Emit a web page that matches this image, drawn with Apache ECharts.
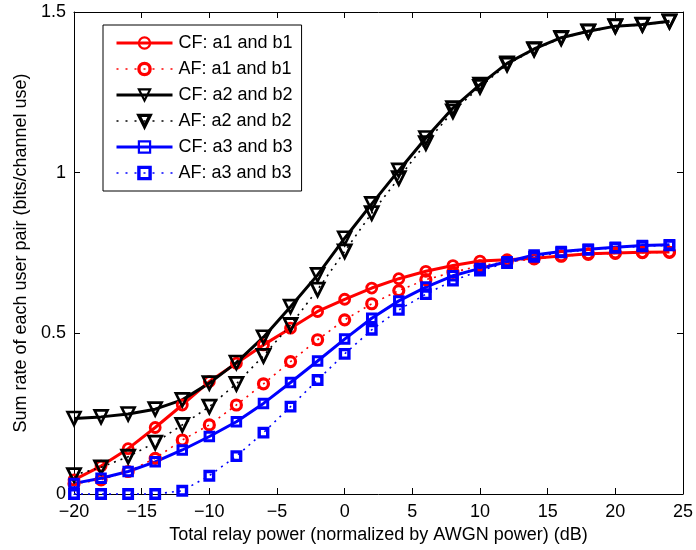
<!DOCTYPE html>
<html>
<head>
<meta charset="utf-8">
<script src="https://cdn.jsdelivr.net/npm/echarts@6/dist/echarts.min.js"></script>
<style>
  html, body { margin: 0; padding: 0; background: #fff; }
  #chart { width: 696px; height: 550px; }
</style>
</head>
<body>
<div id="chart"></div>
<script>
// Total relay power, dB (normalized by AWGN power)
const powerDb = [-20, -18, -16, -14, -12, -10, -8, -6, -4, -2, 0, 2, 4, 6, 8, 10, 12, 14, 16, 18, 20, 22, 24];

// Sum rate of each user pair (bits/channel use)
const cfA1B1 = [0.044, 0.087, 0.141, 0.207, 0.277, 0.350, 0.407, 0.464, 0.516, 0.568, 0.606, 0.641, 0.670, 0.693, 0.711, 0.725, 0.729, 0.734, 0.741, 0.748, 0.750, 0.752, 0.753];
const afA1B1 = [0.032, 0.044, 0.070, 0.111, 0.168, 0.215, 0.277, 0.343, 0.412, 0.480, 0.542, 0.592, 0.633, 0.667, 0.690, 0.710, 0.722, 0.732, 0.740, 0.746, 0.749, 0.751, 0.752];
const cfA2B2 = [0.235, 0.240, 0.249, 0.264, 0.293, 0.345, 0.409, 0.488, 0.583, 0.682, 0.796, 0.903, 1.007, 1.108, 1.201, 1.274, 1.340, 1.385, 1.420, 1.440, 1.456, 1.461, 1.471];
const afA2B2 = [0.059, 0.083, 0.116, 0.160, 0.215, 0.272, 0.343, 0.430, 0.526, 0.636, 0.755, 0.874, 0.983, 1.092, 1.191, 1.267, 1.336, 1.383, 1.418, 1.439, 1.455, 1.460, 1.470];
const cfA3B3 = [0.033, 0.049, 0.070, 0.100, 0.137, 0.179, 0.225, 0.282, 0.347, 0.414, 0.482, 0.547, 0.601, 0.644, 0.679, 0.702, 0.723, 0.744, 0.755, 0.762, 0.768, 0.773, 0.776];
const afA3B3 = [0.000, 0.000, 0.000, 0.000, 0.010, 0.057, 0.118, 0.191, 0.272, 0.355, 0.436, 0.511, 0.573, 0.622, 0.664, 0.695, 0.719, 0.738, 0.752, 0.760, 0.766, 0.771, 0.774];

// Axis ticks
const xTicks = { min: -20, max: 25, step: 5 };
const yTicks = { min: 0, max: 1.5, step: 0.5 };

const FONT = '"Liberation Sans", Arial, Helvetica, sans-serif';
const FONT_SIZE = 18;
const RED = '#ff0000', BLACK = '#000000', BLUE = '#0000ff';

const SOLID = { width: 3, type: 'solid' };
const DOTTED = { width: 1.6, type: [2, 5] };

function pairs(ys) { return powerDb.map((x, i) => [x, ys[i]]); }

function makeSeries(name, ys, color, dotted, symbol, size, border, rotate) {
  const line = dotted ? DOTTED : SOLID;
  return {
    name: name,
    type: 'line',
    data: pairs(ys),
    symbol: symbol,
    symbolSize: size,
    symbolRotate: rotate || 0,
    showSymbol: true,
    clip: false,
    lineStyle: { color: color, width: line.width, type: line.type },
    itemStyle: { color: 'rgba(0,0,0,0)', borderColor: color, borderWidth: border },
    emphasis: { disabled: true }
  };
}

const series = [
  makeSeries('CF: a1 and b1', cfA1B1, RED, false, 'circle', 10, 2.8),
  makeSeries('AF: a1 and b1', afA1B1, RED, true, 'circle', 10, 3.2),
  makeSeries('CF: a2 and b2', cfA2B2, BLACK, false, 'triangle', 13, 2.6, 180),
  makeSeries('AF: a2 and b2', afA2B2, BLACK, true, 'triangle', 13, 2.8, 180),
  makeSeries('CF: a3 and b3', cfA3B3, BLUE, false, 'rect', 8.5, 3),
  makeSeries('AF: a3 and b3', afA3B3, BLUE, true, 'rect', 8.5, 3.4)
];

// legend entries carry the same stroke widths as the plotted lines
const legendItems = series.map((s, i) => {
  const dotted = i % 2 === 1;
  return {
    name: s.name,
    lineStyle: { width: dotted ? DOTTED.width : SOLID.width, type: dotted ? [2, 7] : 'solid', color: s.lineStyle.color },
    itemStyle: { borderWidth: dotted ? 3.4 : 2.2 }
  };
});

const axisBase = {
  axisLine: { show: true, onZero: false, lineStyle: { color: '#000', width: 1 } },
  axisTick: { show: true, inside: true, length: 6, lineStyle: { color: '#000', width: 1 } },
  splitLine: { show: false }
};

const chart = echarts.init(document.getElementById('chart'), null, { renderer: 'canvas' });
chart.setOption({
  animation: false,
  backgroundColor: '#ffffff',
  grid: { left: 74, right: 12, top: 12, bottom: 56, containLabel: false },
  legend: {
    orient: 'vertical',
    left: 103,
    top: 25,
    padding: [9, 9, 9, 12],
    itemWidth: 56,
    itemHeight: 14,
    itemGap: 8,
    backgroundColor: '#fff',
    borderColor: '#000',
    borderWidth: 1,
    borderRadius: 0,
    selectedMode: false,
    textStyle: { fontFamily: FONT, fontSize: FONT_SIZE, color: '#000', padding: [0, 0, 0, 1] },
    data: legendItems
  },
  xAxis: [
    Object.assign({
      type: 'value', position: 'bottom',
      min: xTicks.min, max: xTicks.max, interval: xTicks.step,
      name: 'Total relay power (normalized by AWGN power) (dB)',
      nameLocation: 'middle', nameGap: 31,
      nameTextStyle: { fontFamily: FONT, fontSize: FONT_SIZE, color: '#000' },
      axisLabel: {
        fontFamily: FONT, fontSize: FONT_SIZE, color: '#000', margin: 9,
        formatter: v => String(v).replace('-', '\u2212')
      }
    }, axisBase),
    Object.assign({
      type: 'value', position: 'top',
      min: xTicks.min, max: xTicks.max, interval: xTicks.step,
      axisLabel: { show: false }
    }, axisBase)
  ],
  yAxis: [
    Object.assign({
      type: 'value', position: 'left',
      min: yTicks.min, max: yTicks.max, interval: yTicks.step,
      name: 'Sum rate of each user pair (bits/channel use)',
      nameLocation: 'middle', nameGap: 40,
      nameTextStyle: { fontFamily: FONT, fontSize: FONT_SIZE, color: '#000' },
      axisLabel: { fontFamily: FONT, fontSize: FONT_SIZE, color: '#000', margin: 8 }
    }, axisBase),
    Object.assign({
      type: 'value', position: 'right',
      min: yTicks.min, max: yTicks.max, interval: yTicks.step,
      axisLabel: { show: false }
    }, axisBase)
  ],
  series: series
});
</script>
</body>
</html>
